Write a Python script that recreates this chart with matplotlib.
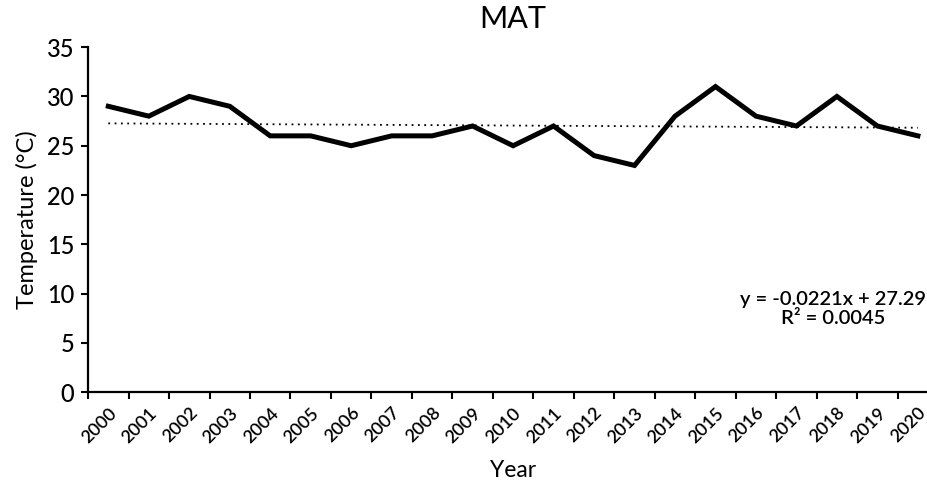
import numpy as np
import matplotlib.pyplot as plt
from matplotlib.ticker import FixedLocator

plt.rcParams['font.family'] = ['Lato', 'DejaVu Sans']

# yearly mean annual temperature
years = [str(y) for y in range(2000, 2021)]
mat = [29, 28, 30, 29, 26, 26, 25, 26, 26, 27, 25, 27, 24, 23, 28, 31, 28, 27, 30, 27, 26]

# linear trend (x = 1..21) and its R^2
slope = -0.0221
intercept = 27.29
r2 = 0.0045

fig = plt.figure(figsize=(9.27, 4.86), dpi=100)
ax = fig.add_axes([0.095, 0.193, 0.917, 0.71])

x = np.arange(len(years))
ax.plot(x, mat, color='black', lw=3.6, solid_joinstyle='miter')

xt = np.array([x[0], x[-1]])
ax.plot(xt, slope * (xt + 1) + intercept, color='black', lw=1.3, ls=(0, (1, 2.5)))

ax.set_xlim(-0.5, len(years) - 0.5)
ax.set_ylim(0, 35)
ax.set_yticks(range(0, 36, 5))
ax.xaxis.set_major_locator(FixedLocator(np.arange(-0.5, len(years), 1)))
ax.set_xticklabels([])
ax.xaxis.set_minor_locator(FixedLocator(x))
ax.set_xticklabels(years, minor=True, rotation=45, ha='right', rotation_mode='anchor',
                   fontsize=13, fontweight='semibold')
ax.tick_params(axis='x', which='minor', length=0, pad=9)
ax.tick_params(axis='x', which='major', length=5, width=1.5, direction='out')
ax.tick_params(axis='y', length=5, width=1.5, labelsize=17, pad=5)
for t in ax.get_yticklabels():
    t.set_fontweight('medium')

for s in ['top', 'right']:
    ax.spines[s].set_visible(False)
for s in ['left', 'bottom']:
    ax.spines[s].set_linewidth(1.6)

ax.set_title('MAT', fontsize=22, pad=14)
ax.set_ylabel('Temperature (°C)', fontsize=17, labelpad=6)
ax.set_xlabel('Year', fontsize=16.5, labelpad=10)

ax.text(17.9, 8.4, f'y = {slope}x + {intercept}\nR² = {r2}', ha='center', va='center',
        fontsize=14.5, fontweight='semibold', linespacing=1.15)

fig.savefig('out.png')
